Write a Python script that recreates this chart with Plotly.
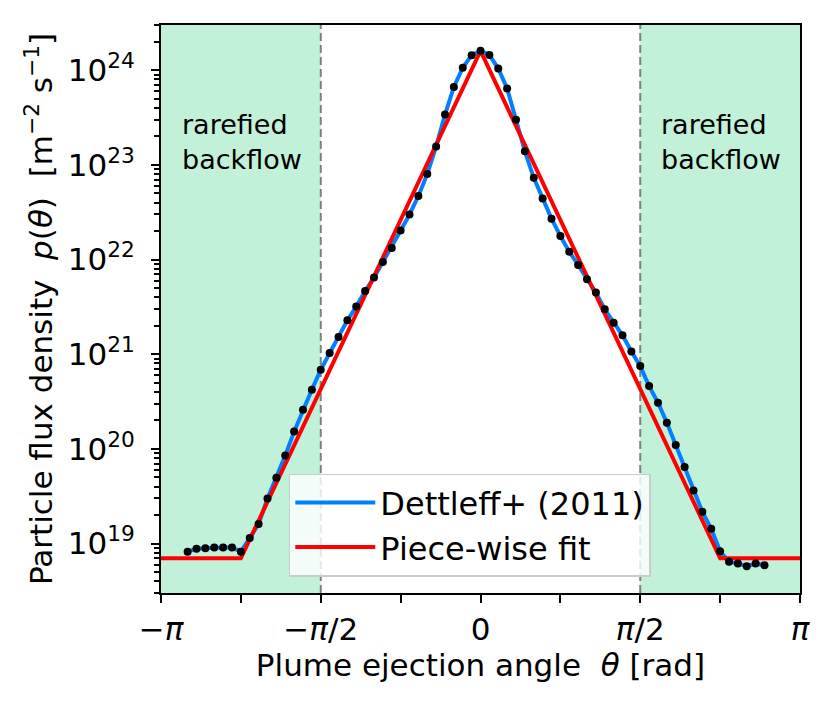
"""Plume particle flux density vs ejection angle (Dettleff+ 2011 + piece-wise fit)."""
import numpy as np
import plotly.graph_objects as go

# ---------------------------------------------------------------------------
# Data
# ---------------------------------------------------------------------------
theta_deg = [
    -165, -160, -155, -150, -145, -140, -135, -130, -125, -120, -115, -110,
    -105, -100, -95, -90, -85, -80, -75, -70, -65, -60, -55, -50, -45, -40,
    -35, -30, -25, -20, -15, -10, -5, 0, 5, 10, 15, 20, 25, 30, 35, 40, 45,
    50, 55, 60, 65, 70, 75, 80, 85, 90, 95, 100, 105, 110, 115, 120, 125,
    130, 135, 140, 145, 150, 155, 160,
]
flux_dettleff = [
    8.2e18, 8.8e18, 8.9e18, 9.1e18, 9.1e18, 9.1e18, 8.2e18, 1.14e19,
    1.61e19, 2.99e19, 4.94e19, 8.5e19, 1.52e20, 2.59e20, 4.22e20, 6.85e20,
    1.03e21, 1.52e21, 2.28e21, 3.18e21, 4.65e21, 6.44e21, 9.4e21, 1.32e22,
    2.02e22, 2.99e22, 4.69e22, 8.0e22, 1.56e23, 3.40e23, 6.65e23, 1.06e24,
    1.44e24, 1.60e24, 1.45e24, 1.04e24, 6.4e23, 2.99e23, 1.39e23, 7.3e22,
    4.41e22, 2.70e22, 1.77e22, 1.21e22, 8.75e21, 6.18e21, 4.47e21, 2.98e21,
    2.15e21, 1.58e21, 1.07e21, 7.48e20, 4.60e20, 3.07e20, 1.89e20, 1.10e20,
    6.41e19, 3.63e19, 2.16e19, 1.43e19, 8.3e18, 6.4e18, 6.15e18, 5.75e18,
    6.15e18, 5.9e18,
]

# piece-wise fit: flat backflow floor, log-linear flanks meeting at theta = 0
fit_theta_deg = [-180, -135, 0, 135, 180]
fit_flux = [7.0e18, 7.0e18, 1.6e24, 7.0e18, 7.0e18]

y_major = [1e19, 1e20, 1e21, 1e22, 1e23, 1e24]
y_major_text = ["10<sup>%d</sup>" % e for e in range(19, 25)]
x_tick_text = ["\u2212<i>\u03c0</i>", "", "\u2212<i>\u03c0</i>/2", "", "0",
               "", "<i>\u03c0</i>/2", "", "<i>\u03c0</i>"]

# ---------------------------------------------------------------------------
# Figure
# ---------------------------------------------------------------------------
FONT = "DejaVu Sans"
GREEN = "rgb(194,241,218)"
BLUE = "rgb(0,128,255)"

theta = np.deg2rad(theta_deg)
fit_theta = np.deg2rad(fit_theta_deg)
pi = np.pi

fig = go.Figure()

fig.add_trace(go.Scatter(
    x=theta, y=flux_dettleff, mode="lines",
    line=dict(color=BLUE, width=4),
    name="Dettleff+ (2011)",
))
fig.add_trace(go.Scatter(
    x=fit_theta, y=fit_flux, mode="lines",
    line=dict(color="red", width=4),
    name="Piece-wise fit",
))
fig.add_trace(go.Scatter(
    x=theta, y=flux_dettleff, mode="markers",
    marker=dict(color="black", size=8),
    showlegend=False,
))

# shaded backflow regions and dashed boundaries
for x0, x1 in [(-pi, -pi / 2), (pi / 2, pi)]:
    fig.add_shape(type="rect", xref="x", yref="paper", x0=x0, x1=x1, y0=0, y1=1,
                  fillcolor=GREEN, line_width=0, layer="below")
for xv in [-pi / 2, pi / 2]:
    fig.add_shape(type="line", xref="x", yref="paper", x0=xv, x1=xv, y0=0, y1=1,
                  line=dict(color="gray", width=2, dash="8px,4px"), layer="below")

for xa in [-pi + 0.06 * pi, pi / 2 + 0.06 * pi]:
    fig.add_annotation(
        x=xa, y=22.87, xref="x", yref="y",
        text="rarefied<br>backflow", showarrow=False,
        xanchor="left", yanchor="bottom", align="left",
        font=dict(family=FONT, size=27, color="black"),
    )

minor_vals = [m * 10.0 ** e for e in range(18, 25) for m in range(2, 10)
              if 3e18 <= m * 10.0 ** e <= 3e24]

fig.update_xaxes(
    range=[-pi, pi],
    tickmode="array",
    tickvals=[k * pi / 4 for k in range(-4, 5)],
    ticktext=x_tick_text,
    ticks="outside", ticklen=8, tickwidth=2, tickcolor="black",
    showline=True, linecolor="black", linewidth=2, mirror=True,
    showgrid=False, zeroline=False,
    tickfont=dict(family=FONT, size=31, color="black"),
    title=dict(text="Plume ejection angle\u00a0\u00a0<i>\u03b8</i> [rad]",
               font=dict(family=FONT, size=31, color="black"), standoff=6),
)
fig.update_yaxes(
    type="log",
    range=[np.log10(3e18), np.log10(3e24)],
    tickmode="array", tickvals=y_major, ticktext=y_major_text,
    ticks="outside", ticklen=8, tickwidth=2, tickcolor="black",
    ticklabelstandoff=10,
    minor=dict(tickmode="array", tickvals=minor_vals, ticks="outside",
               ticklen=5, tickwidth=1.5, tickcolor="black", showgrid=False),
    showline=True, linecolor="black", linewidth=2, mirror=True,
    showgrid=False, zeroline=False,
    tickfont=dict(family=FONT, size=31, color="black"),
    title=dict(text="Particle flux density\u00a0\u00a0<i>p</i>(<i>\u03b8</i>)"
                    "\u00a0\u00a0[m<sup>\u22122</sup>\u00a0s<sup>\u22121</sup>]",
               font=dict(family=FONT, size=31, color="black"), standoff=6),
)

# page body adds an 8 px offset, so the figure is 8 px smaller on each axis
fig.update_layout(
    width=823, height=702,
    margin=dict(l=153, r=31, t=17, b=117),
    plot_bgcolor="white", paper_bgcolor="white",
    font=dict(family=FONT, color="black"),
    legend=dict(
        x=0.2, y=0.21, xanchor="left", yanchor="top",
        bgcolor="rgba(255,255,255,0.8)", bordercolor="#cccccc", borderwidth=1.5,
        font=dict(family=FONT, size=32, color="black"),
        itemwidth=80,
    ),
)

fig.write_html("out.html")
